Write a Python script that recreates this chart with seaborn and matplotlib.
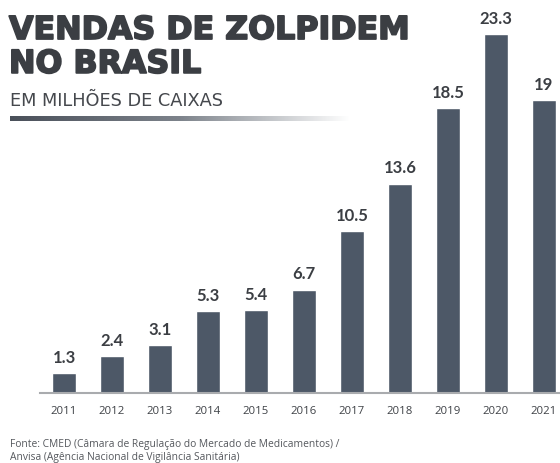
import numpy as np
import pandas as pd
import matplotlib
matplotlib.use("Agg")
import matplotlib.pyplot as plt
import matplotlib.patheffects as pe
from matplotlib.colors import LinearSegmentedColormap
import seaborn as sns

years = ["2011", "2012", "2013", "2014", "2015", "2016", "2017", "2018", "2019", "2020", "2021"]
sales = [1.3, 2.4, 3.1, 5.3, 5.4, 6.7, 10.5, 13.6, 18.5, 23.3, 19]

title = "VENDAS DE ZOLPIDEM\nNO BRASIL"
subtitle = "EM MILHÕES DE CAIXAS"
source = ("Fonte: CMED (Câmara de Regulação do Mercado de Medicamentos) /\n"
          "Anvisa (Agência Nacional de Vigilância Sanitária)")

BAR = "#4d5867"
TXT = "#3b3e43"

sns.set_theme(style="white")
plt.rcParams["font.family"] = ["Lato", "DejaVu Sans"]

W, H = 560, 464
fig = plt.figure(figsize=(W / 100, H / 100), dpi=100)
fig.patch.set_facecolor("white")

# axes: left edge 40px, right edge at figure edge, baseline 394px from top
ax = fig.add_axes([40 / W, 70 / H, 1 - 40 / W, 394 / H])
df = pd.DataFrame({"year": years, "sales": sales})
sns.barplot(data=df, x="year", y="sales", color=BAR, width=0.5, saturation=1, ax=ax)
ax.set_xlim(-0.5, 10.5 - 8 / 48)
ax.set_ylim(0, 394 / 15.4)
for s in ["top", "right", "left"]:
    ax.spines[s].set_visible(False)
ax.spines["bottom"].set_color("#a9abae")
ax.spines["bottom"].set_linewidth(1.5)
ax.set_yticks([])
ax.set_xlabel("")
ax.set_ylabel("")
ax.tick_params(axis="x", length=0, pad=9, labelsize=8.2, labelcolor="#3f4247")
for lab in ax.get_xticklabels():
    lab.set_fontfamily(["Open Sans", "DejaVu Sans"])
ax.bar_label(ax.containers[0], labels=[f"{v:g}" for v in sales], padding=6,
             fontsize=12, fontweight="bold", color=TXT)

# titles
fig.text(9 / W, 1 - 16 / H, title, ha="left", va="top", fontsize=22.8,
         fontweight="bold", color=TXT, linespacing=1.12,
         fontfamily=["DejaVu Sans"],
         path_effects=[pe.withStroke(linewidth=1.3, foreground=TXT)])
fig.text(10 / W, 1 - 106 / H, subtitle, ha="left", va="baseline", fontsize=12.8,
         color="#45484d", fontfamily=["DejaVu Sans"])

# gradient rule under subtitle
gax = fig.add_axes([10 / W, 1 - 122 / H, 340 / W, 5 / H])
cmap = LinearSegmentedColormap.from_list("g", ["#4a505a", "#7d838b", "#ffffff"])
gax.imshow(np.linspace(0, 1, 256)[None, :], aspect="auto", cmap=cmap)
gax.axis("off")

fig.text(10 / W, 1 - 439 / H, source, ha="left", va="top", fontsize=7.4,
         color="#55585d", fontfamily=["Open Sans", "DejaVu Sans"], linespacing=1.25)

fig.savefig("out.png", dpi=100)
